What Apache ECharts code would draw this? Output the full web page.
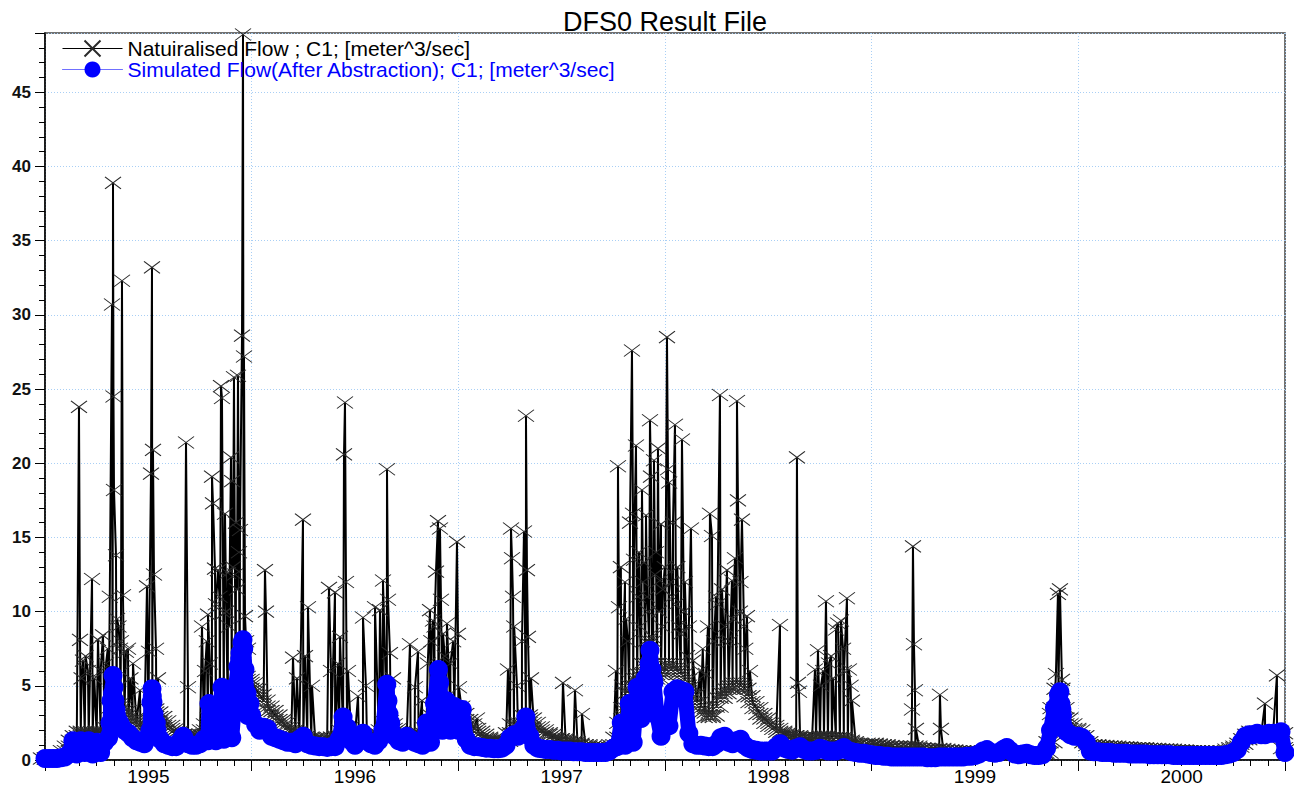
<!DOCTYPE html>
<html>
<head>
<meta charset="utf-8">
<script src="https://cdn.jsdelivr.net/npm/echarts@6/dist/echarts.min.js"></script>
<style>
html,body{margin:0;padding:0;background:#fff;}
#chart{width:1294px;height:789px;}
</style>
</head>
<body>
<div id="chart"></div>
<script>
const titleText = 'DFS0 Result File';
const seriesNames = ['Natuiralised Flow ; C1; [meter^3/sec]', 'Simulated Flow(After Abstraction); C1; [meter^3/sec]'];
const yearLabels = [1995, 1996, 1997, 1998, 1999, 2000];
const startYear = 1995;
const weeksPerYear = 52;

// weekly values (week 0 = start of 1995)
const naturalWeekly = [
0.1,0.1,0.15,0.2,0.3,0.6,0.9,1.3,1.6,1.9,
1.8,1.7,1.8,1.7,1.9,1.8,2.2,3.5,3.8,3.6,
3.3,3.0,2.7,2.5,2.3,2.2,2.6,3.4,3.2,2.9,
2.6,2.3,2.1,1.9,1.7,1.6,1.7,1.6,1.5,1.7,
2.0,2.4,2.8,2.9,3.2,3.4,3.3,3.8,4.2,4.8,
5.6,5.4,
5.2,4.8,4.4,4.0,3.6,3.3,3.0,2.7,2.5,2.2,
2.0,1.9,1.7,1.6,1.5,1.4,1.3,1.3,1.3,1.4,
1.5,1.5,1.6,2.0,2.2,1.9,1.7,1.6,1.6,1.5,
1.6,1.7,1.7,2.0,2.6,2.4,2.1,1.9,1.7,1.6,
1.7,1.6,1.6,1.8,2.2,2.6,3.0,3.6,3.4,3.2,
3.3,3.5,
3.6,3.1,2.7,2.4,2.1,1.9,1.7,1.5,1.4,1.3,
1.2,1.2,1.3,1.8,2.4,2.3,2.5,3.0,2.8,2.5,
2.2,2.0,1.8,1.7,1.5,1.4,1.4,1.3,1.2,1.2,
1.1,1.0,1.0,0.9,0.9,0.9,0.8,0.8,0.8,1.0,
1.5,2.5,3.5,4.5,5.0,5.5,5.8,6.5,8.0,6.5,
5.5,5.8,
6.0,6.5,6.2,6.0,5.8,5.4,5.0,4.4,3.9,3.5,
3.2,2.9,3.0,3.6,4.2,4.5,4.8,5.0,5.2,5.0,
4.8,4.3,3.9,3.5,3.1,2.8,2.5,2.3,2.1,1.9,
1.8,1.7,1.6,1.6,1.5,1.5,1.4,1.4,1.5,1.5,
1.6,1.5,1.5,1.5,1.5,1.4,1.3,1.2,1.1,1.0,
1.0,0.9,
1.1,1.05,1.0,1.0,0.95,0.9,0.9,0.85,0.85,0.8,
0.9,0.9,0.8,0.75,0.75,0.7,0.7,0.75,0.7,0.65,
0.65,0.6,0.6,0.6,0.55,0.55,0.55,0.5,0.5,0.5,
0.5,0.45,0.45,0.45,0.45,0.45,0.4,0.4,0.4,0.4,
0.4,0.4,0.4,0.4,0.5,1.2,3.5,4.8,3.5,2.8,
2.4,2.1,
2.0,1.6,1.2,1.0,1.0,0.95,0.95,0.9,0.9,0.9,
0.85,0.85,0.85,0.8,0.8,0.8,0.8,0.75,0.75,0.75,
0.7,0.7,0.7,0.7,0.65,0.65,0.65,0.6,0.6,0.6,
0.6,0.6,0.55,0.55,0.55,0.55,0.55,0.6,0.7,0.8,
0.9,1.1,1.4,1.7,1.9,1.8,1.7,1.8,1.9,1.8,
1.9,1.8,0.8
];

// storm peaks [week, value]
const naturalPeaks = [
[8.55,23.8],[8.81,8.1],[9.2,5.5],[9.56,6.7],[10.2,7.0],[10.8,6.0],[11.83,12.2],[12.4,5.5],[13.33,8.1],[14.0,6.0],[14.59,8.4],[15.35,6.5],[15.8,7.5],[16.3,11.0],
[16.86,30.7],[17.11,38.9],[17.23,24.5],[17.36,18.2],[17.86,13.8],[18.12,9.5],[18.5,9.0],[18.87,7.5],[19.1,8.0],[19.37,32.3],[19.62,11.1],[20.38,7.3],[20.88,7.5],[21.5,5.5],[22.14,6.5],[23.9,4.7],
[25.66,11.7],[26.17,7.3],[26.67,19.3],[26.92,33.2],[27.17,20.9],[27.42,12.5],[27.93,7.5],[28.43,5.5],
[35.48,21.4],[35.98,4.9],
[39.5,9.0],[40.26,6.0],[40.7,8.0],[41.01,9.8],[41.5,6.5],[42.02,19.1],[42.27,17.3],[42.77,12.9],[43.0,10.5],[43.53,12.8],[43.9,11.0],[44.28,25.2],[44.53,24.4],[45.04,9.9],[45.29,16.6],[45.6,10.0],[46.04,12.6],[46.3,9.0],[46.8,20.4],[47.05,18.8],[47.3,13.0],[47.55,25.8],[47.8,12.5],[48.06,16.0],[48.3,11.5],[48.56,25.9],[48.8,14.0],[49.06,15.5],[49.57,28.6],[49.82,48.9],[50.07,27.2],[50.32,9.7],[50.6,8.0],[51.07,7.5],
[55.35,12.8],[55.6,10.0],[62.4,6.9],[63.4,5.5],[64.91,16.2],[65.42,7.0],[66.17,10.3],[67.18,5.0],
[71.45,11.6],[71.96,6.0],[72.96,11.3],[73.72,6.5],[74.22,8.3],[75.23,20.6],[75.48,24.1],[75.73,12.0],[76.23,6.0],
[78.75,4.3],[80.01,9.6],[80.76,5.0],[83.03,10.3],[84.29,10.1],[85.04,12.1],[86.05,19.6],[86.3,10.8],[86.8,7.2],[87.56,5.5],
[91.83,7.8],[93.09,4.9],[93.85,7.3],[94.85,4.0],
[96.3,6.5],[96.87,10.1],[97.2,8.0],[97.62,9.4],[98.0,9.0],[98.38,12.7],[98.88,16.1],[99.38,15.6],[99.63,10.8],[100.14,8.5],[100.6,7.0],[101.14,9.2],[102.0,6.5],[102.7,8.0],[103.66,14.7],[103.91,8.5],[104.16,4.9],
[108.69,2.8],[116.49,6.1],[117.25,15.6],[117.5,13.6],[117.75,11.0],[118.05,9.0],[118.76,5.0],[120.01,8.0],[120.52,15.4],[121.02,23.2],[121.27,12.8],[121.52,8.3],[122.28,5.5],
[130.33,5.2],[133.35,4.7],[135.11,3.1],
[143.66,6.0],[144.17,19.8],[144.42,10.3],[144.9,13.0],[145.17,5.0],[145.93,12.0],[146.2,9.5],[146.68,8.0],[147.19,16.0],[147.69,27.6],[147.94,16.6],[148.19,13.5],[148.7,21.2],[149.2,11.0],[149.45,14.0],[149.7,9.0],[150.21,18.2],[150.45,12.0],[150.71,13.3],[151.22,16.5],[151.5,11.0],[151.72,10.0],[152.22,22.9],[152.47,19.1],[152.72,8.3],[153.23,20.2],[153.5,12.5],[153.73,14.0],[154.23,21.0],[154.5,10.0],[154.74,12.1],[154.99,15.9],[155.2,9.0],[155.49,11.5],
[155.95,13.0],[156.5,28.5],[156.75,19.6],[157.05,18.7],[157.5,12.0],[157.8,11.0],[158.01,16.0],[158.51,22.6],[158.76,10.5],[159.1,13.0],[159.51,9.0],[160.0,8.5],[160.27,21.6],[160.77,10.0],[161.0,12.0],[161.53,7.0],[162.0,9.0],[162.53,15.6],[163.04,6.7],
[164.8,6.0],[165.5,7.5],[166.31,5.8],[166.8,9.0],[167.31,16.6],[167.82,15.1],[168.32,8.0],[168.83,11.0],[169.2,10.5],[169.83,24.6],[170.34,11.5],[170.8,8.0],[171.09,9.0],[171.59,12.8],[172.35,8.0],[172.85,12.1],[173.1,9.5],[173.6,13.6],[174.11,24.2],[174.36,17.5],[174.86,10.0],[175.0,12.0],[175.37,16.2],[175.87,9.0],[176.2,7.5],[176.62,9.7],[177.38,6.0],
[184.93,9.1],[189.2,20.4],[189.45,5.2],[189.71,4.6],
[193.73,6.1],[194.49,7.4],[195.24,5.0],[195.8,6.0],[196.5,10.7],[197.25,6.5],[197.8,7.0],[198.26,5.5],[199.02,8.8],[199.52,9.2],[200.27,9.4],[200.8,7.5],[201.03,6.0],[201.78,10.9],[202.28,6.1],[202.7,5.0],[203.04,4.0],
[218.14,3.4],[218.39,14.4],[218.64,7.8],[218.89,4.7],[219.14,2.1],[225.18,4.4],[225.43,2.1],
[252.85,3.1],[254.36,5.8],[254.87,11.2],[255.37,11.5],[255.87,5.4],
[306.95,3.8],[309.97,5.7]
];

const simulatedWeekly = [
0.1,0.1,0.1,0.1,0.15,0.2,0.4,
1.3,0.4,1.3,0.5,1.3,0.4,1.2,0.5,1.2,1.5,
4.5,
3.0,2.4,2.0,1.8,1.5,1.3,1.2,1.1,
1.6,4.3,2.5,1.4,1.1,1.0,0.9,0.9,1.3,1.5,1.1,1.0,1.0,1.1,1.4,
1.3,3.6,1.3,3.5,1.4,3.5,1.5,5.0,6.8,7.5,3.0,
3.0,2.4,2.0,2.2,2.1,1.6,1.5,1.4,1.3,1.2,
1.2,1.1,1.4,1.6,1.1,1.0,0.95,0.9,0.9,0.85,
0.9,0.9,1.4,2.9,2.2,1.3,1.0,1.3,1.8,1.3,
1.1,1.0,1.3,2.0,5.1,2.5,1.6,1.3,1.2,1.6,
1.4,1.2,1.1,1.0,2.5,1.2,3.8,6.1,2.0,4.0,
2.0,3.6,
2.0,3.4,1.4,1.0,0.9,0.9,0.85,0.8,0.8,0.75,
0.75,0.8,1.0,1.5,1.7,1.6,2.0,2.9,1.6,1.0,
0.8,0.75,0.7,0.7,0.65,0.65,0.6,0.6,0.6,0.55,
0.55,0.55,0.5,0.5,0.5,0.5,0.5,0.5,0.6,0.8,
0.9,2.5,1.0,3.8,1.2,4.9,2.8,5.5,6.5,5.5,
3.0,1.6,
3.0,2.3,4.6,4.8,4.7,4.6,1.8,1.1,1.0,1.0,
0.95,0.9,0.9,1.1,1.5,1.6,1.2,1.1,1.3,1.4,
1.0,0.8,0.7,0.65,0.6,0.6,0.6,0.6,0.9,1.1,
0.8,0.7,0.65,0.8,0.9,0.7,0.6,0.6,0.65,0.8,
0.7,0.6,0.6,0.6,0.7,0.85,0.65,0.55,0.5,0.45,
0.45,0.4,
0.35,0.3,0.3,0.25,0.25,0.2,0.2,0.2,0.2,0.2,
0.2,0.2,0.2,0.2,0.15,0.15,0.15,0.2,0.2,0.2,
0.2,0.2,0.2,0.2,0.25,0.25,0.3,0.4,0.6,0.7,
0.5,0.45,0.5,0.7,0.85,0.6,0.4,0.35,0.4,0.45,
0.35,0.3,0.3,0.35,0.8,2.0,3.5,4.4,3.0,1.9,
1.7,1.6,
1.6,1.5,1.2,0.6,0.55,0.55,0.5,0.5,0.5,0.45,
0.45,0.45,0.45,0.4,0.4,0.4,0.4,0.4,0.35,0.35,
0.35,0.35,0.35,0.35,0.3,0.3,0.3,0.3,0.3,0.3,
0.3,0.3,0.3,0.3,0.3,0.3,0.3,0.35,0.4,0.5,
0.7,1.2,1.6,1.7,1.7,1.8,1.7,1.7,1.8,1.8,
1.8,1.9,0.5
];

const simulatedPeaks = [
[16.35,2.5],[16.61,4.0],[17.11,5.7],[17.36,4.9],[17.61,4.0],[17.86,3.4],[18.62,2.6],
[26.42,2.0],[26.67,3.9],[26.92,4.8],[27.17,3.9],[27.42,3.1],[28.18,2.0],
[34.72,1.6],[41.26,3.8],[44.53,4.9],[46.55,4.3],[48.56,6.3],[49.06,7.2],[49.57,7.9],[49.82,8.1],[50.32,6.1],[50.82,4.5],[51.58,3.8],
[86.3,4.0],[86.55,3.1],[86.8,2.3],[99.3,5.2],[99.6,4.0],
[152.22,7.4],[152.72,6.1],[153.23,5.2],
[255.37,4.6],[255.6,3.8],[255.87,3.4]
];

// weekly points stand for seven daily markers, so they get a wider cross pattern
const crossSymbol = 'path://M0,0L16,12M16,0L0,12';
const weeklyCrossSymbol = 'path://M0,0L16,12M16,0L0,12M4,0L20,12M20,0L4,12M8,0L24,12M24,0L8,12';

function build(weekly, peaks, weeklyStyle) {
  const pts = weekly.map((v, i) => Object.assign({value: [startYear + i / weeksPerYear, v]}, weeklyStyle || {}));
  peaks.forEach(p => pts.push({value: [startYear + p[0] / weeksPerYear, p[1]]}));
  pts.sort((a, b) => a.value[0] - b.value[0]);
  return pts;
}

const gridColor = '#a9cff5';
const font = 'Liberation Sans, Arial, sans-serif';
const chart = echarts.init(document.getElementById('chart'), null, {renderer: 'svg'});
chart.setOption({
  animation: false,
  backgroundColor: '#fff',
  title: {
    text: titleText, left: 558, top: 3,
    textStyle: {fontFamily: font, fontSize: 27, fontWeight: 'normal', color: '#000'}
  },
  legend: {
    orient: 'vertical', left: 57, top: 33, itemWidth: 60, itemHeight: 20, itemGap: 0,
    textStyle: {fontFamily: font, fontSize: 21, lineHeight: 20},
    lineStyle: {width: 1},
    data: [
      {name: seriesNames[0], textStyle: {color: '#000'}},
      {name: seriesNames[1], textStyle: {color: '#0000ff'}, lineStyle: {width: 1, color: '#7070ff'}}
    ]
  },
  grid: {left: 45, right: 9, top: 33, bottom: 29, show: true, borderColor: '#444', borderWidth: 1.5, containLabel: false},
  xAxis: [
    {
      type: 'value', min: 1995, max: 2001, interval: 1,
      axisLine: {show: true, onZero: false, lineStyle: {color: '#000', width: 1.5}},
      axisTick: {show: true, length: 11, lineStyle: {color: '#000'}},
      minorTick: {show: true, splitNumber: 12, length: 6, lineStyle: {color: '#000'}},
      axisLabel: {show: false},
      splitLine: {show: true, lineStyle: {color: gridColor, type: [1, 2]}}
    },
    {
      type: 'value', min: 1994.5, max: 2000.5, interval: 0.5, position: 'bottom',
      axisLine: {show: false}, axisTick: {show: false}, splitLine: {show: false},
      axisLabel: {
        margin: 7, fontSize: 19, color: '#000', fontFamily: font,
        showMinLabel: false, showMaxLabel: false,
        formatter: v => yearLabels.indexOf(v) >= 0 ? String(v) : ''
      }
    }
  ],
  yAxis: {
    type: 'value', min: 0, max: 49, interval: 5,
    axisLine: {show: true, lineStyle: {color: '#000', width: 1.5}},
    axisTick: {show: true, length: 10, lineStyle: {color: '#000'}},
    minorTick: {show: true, splitNumber: 5, length: 6, lineStyle: {color: '#000'}},
    axisLabel: {
      margin: 14, fontSize: 17, fontWeight: 'bold', color: '#111', fontFamily: font,
      formatter: v => (v % 5 === 0 ? String(v) : '')
    },
    splitLine: {show: true, lineStyle: {color: gridColor, type: [1, 2]}}
  },
  series: [
    {
      name: seriesNames[0], type: 'line', xAxisIndex: 0, yAxisIndex: 0,
      data: build(naturalWeekly, naturalPeaks, {symbol: weeklyCrossSymbol, symbolSize: [24, 12]}),
      symbol: crossSymbol, symbolSize: [16, 12],
      showSymbol: true, showAllSymbol: true,
      lineStyle: {color: '#000', width: 2},
      itemStyle: {color: '#000', borderColor: '#2a2a2a', borderWidth: 1},
      emphasis: {disabled: true}, z: 2
    },
    {
      name: seriesNames[1], type: 'line', xAxisIndex: 0, yAxisIndex: 0,
      data: build(simulatedWeekly, simulatedPeaks),
      symbol: 'circle', symbolSize: 19,
      showSymbol: true, showAllSymbol: true,
      lineStyle: {color: '#0000ff', width: 15, cap: 'round', join: 'round'},
      itemStyle: {color: '#0000ff', borderWidth: 0},
      emphasis: {disabled: true}, z: 3
    }
  ]
});
</script>
</body>
</html>
